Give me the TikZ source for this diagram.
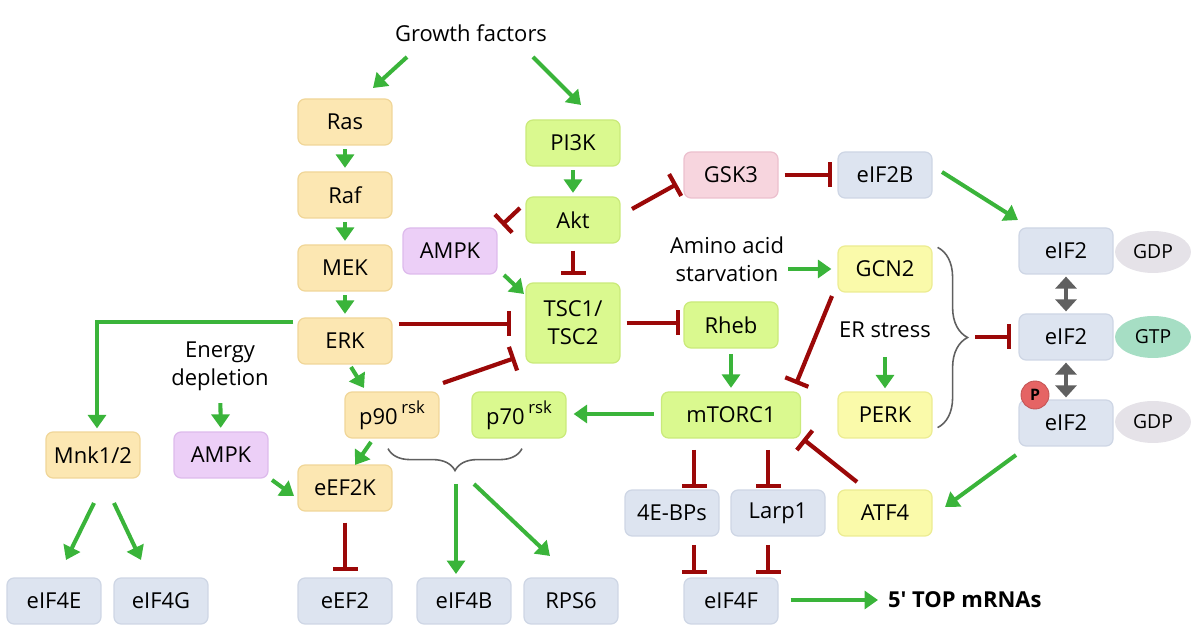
\documentclass[tikz,border=0pt]{standalone}
\usepackage{fontspec}
\setmainfont{Open Sans}
\usetikzlibrary{arrows.meta}
\usetikzlibrary{calc}
\usetikzlibrary{positioning}
\usetikzlibrary{shapes.geometric}
\usetikzlibrary{decorations.pathreplacing}
\definecolor{agreen}{RGB}{58,180,58}
\definecolor{ired}{RGB}{155,8,8}
\definecolor{tanfill}{RGB}{252,231,178}
\definecolor{tanline}{RGB}{240,214,152}
\definecolor{limefill}{RGB}{218,249,143}
\definecolor{limeline}{RGB}{202,234,122}
\definecolor{greyfill}{RGB}{221,228,240}
\definecolor{greyline}{RGB}{206,214,229}
\definecolor{pinkfill}{RGB}{247,213,222}
\definecolor{pinkline}{RGB}{236,192,206}
\definecolor{purpfill}{RGB}{236,207,247}
\definecolor{purpline}{RGB}{221,186,236}
\definecolor{yelfill}{RGB}{250,250,170}
\definecolor{yelline}{RGB}{236,236,146}
\definecolor{gdpfill}{RGB}{229,226,232}
\definecolor{gtpfill}{RGB}{166,222,196}
\definecolor{pfill}{RGB}{229,100,100}
\definecolor{dgrey}{RGB}{96,96,96}
\newcommand{\rsk}{\,\raisebox{0.5em}{\fontsize{9.5}{10}\selectfont rsk}}

\begin{document}
\begin{tikzpicture}[x=0.02cm, y=-0.02cm,
    every node/.style={font=\fontsize{12.5}{16}\selectfont, inner sep=1pt},
    box/.style={rounded corners=4pt, line width=0.7pt, minimum width=1.88cm, minimum height=0.92cm, inner sep=2pt},
    tan/.style={box, draw=tanline, fill=tanfill},
    lime/.style={box, draw=limeline, fill=limefill},
    grey/.style={box, draw=greyline, fill=greyfill},
    pink/.style={box, draw=pinkline, fill=pinkfill},
    purp/.style={box, draw=purpline, fill=purpfill},
    yel/.style={box, draw=yelline, fill=yelfill},
    gdp/.style={ellipse, fill=gdpfill, minimum width=1.52cm, minimum height=0.84cm, inner sep=0pt, font=\fontsize{11}{13}\selectfont},
    gtp/.style={gdp, fill=gtpfill},
    phos/.style={circle, fill=pfill, draw=pfill!85!black, line width=0.5pt, minimum size=0.56cm, inner sep=0pt, font=\fontsize{9}{10}\selectfont\bfseries},
    act/.style={draw=agreen, line width=2.3pt, -{Triangle[length=0.27cm, width=0.36cm]}},
    inh/.style={draw=ired, line width=2.4pt, -{Bar[width=0.5cm]}},
    swap/.style={draw=dgrey, line width=2.8pt, {Triangle[length=0.24cm, width=0.42cm]}-{Triangle[length=0.24cm, width=0.42cm]}},
    curly/.style={draw=dgrey, line width=0.9pt, decorate, decoration={brace, amplitude=#1}}]

    \useasboundingbox (0, 0) rectangle (1200, 644);

    \node (gf) at (471, 33) {Growth factors};
    \node [tan] (ras) at (345, 122) {Ras};
    \node [tan] (raf) at (345, 195) {Raf};
    \node [tan] (mek) at (345, 268) {MEK};
    \node [tan] (erk) at (345, 341) {ERK};
    \node [tan] (p90) at (392, 415) {p90\rsk};
    \node [tan] (eef2k) at (345, 488) {eEF2K};
    \node [tan] (mnk) at (93, 455) {Mnk1/2};
    \node [purp] (ampkb) at (221, 455) {AMPK};
    \node [align=center] (energy) at (220, 366) {Energy\\depletion};

    \node [grey] (eif4e) at (54, 601) {eIF4E};
    \node [grey] (eif4g) at (161, 601) {eIF4G};
    \node [grey] (eef2) at (345, 601) {eEF2};
    \node [grey] (eif4b) at (464, 601) {eIF4B};
    \node [grey] (rps6) at (571, 601) {RPS6};

    \node [lime] (pi3k) at (573, 143) {PI3K};
    \node [lime] (akt) at (573, 220) {Akt};
    \node [purp] (ampka) at (450, 251) {AMPK};
    \node [lime, minimum height=1.6cm, align=center] (tsc) at (573, 323) {TSC1/\\TSC2};
    \node [lime] (p70) at (519, 415) {p70\rsk};
    \node [pink] (gsk3) at (731, 175) {GSK3};
    \node [grey] (eif2b) at (885, 175) {eIF2B};
    \node [lime] (rheb) at (731, 325) {Rheb};
    \node [lime, minimum width=2.78cm] (mtorc1) at (731, 415) {mTORC1};

    \node [align=center] (aa) at (727, 259) {Amino acid\\starvation};
    \node [yel] (gcn2) at (885, 269) {GCN2};
    \node (er) at (885, 330) {ER stress};
    \node [yel] (perk) at (885, 415) {PERK};
    \node [yel] (atf4) at (885, 513) {ATF4};
    \node [grey] (ebp) at (672, 513) {4E-BPs};
    \node [grey] (larp1) at (778, 513) {Larp1};
    \node [grey] (eif4f) at (731, 601) {eIF4F};
    \node [anchor=west, font=\fontsize{12.5}{16}\selectfont\bfseries] (top) at (886, 600) {5\textquotesingle{} TOP mRNAs};

    \node [grey] (eif2t) at (1066, 251) {eIF2};
    \node [grey] (eif2m) at (1066, 337) {eIF2};
    \node [grey] (eif2p) at (1066, 423) {eIF2};
    \node [gdp] (gdpt) at (1153, 252) {GDP};
    \node [gtp] (gtp) at (1153, 337) {GTP};
    \node [gdp] (gdpp) at (1153, 422) {GDP};
    \node [phos] (p) at (1035, 395) {P};

    \coordinate (btip) at (456, 484);
    \coordinate (rtip) at (975, 337);

    \draw [act] ($(gf)+(-64, 24)$) -- ($(ras)+(28, -34)$);
    \draw [act] ($(gf)+(62, 24)$) -- ($(pi3k)+(8, -38)$);
    \draw [act, shorten <=2pt, shorten >=2pt] (ras) -- (raf);
    \draw [act, shorten <=2pt, shorten >=2pt] (raf) -- (mek);
    \draw [act, shorten <=2pt, shorten >=2pt] (mek) -- (erk);
    \draw [act] ($(erk.west)+(-4, -19)$) -| ($(mnk.north)+(4, -3)$);
    \draw [inh] ($(erk.east)+(6, -17)$) -- ($(tsc.west)+(-14, 1)$);
    \draw [act] ($(erk)+(6, 26)$) -- ($(p90)+(-28, -27)$);
    \draw [inh] ($(p90)+(51, -32)$) -- ($(tsc)+(-58, 35)$);
    \draw [act] ($(p90)+(-21, 27)$) -- ($(eef2k)+(10, -23)$);
    \draw [act] ($(ampkb)+(51, 25)$) -- ($(eef2k)+(-51, 8)$);
    \draw [act, shorten <=6pt, shorten >=2pt] (energy) -- (ampkb);
    \draw [act] ($(mnk)+(1, 48)$) -- ($(eif4e)+(12, -41)$);
    \draw [act] ($(mnk)+(21, 48)$) -- ($(eif4g)+(-20, -41)$);
    \draw [inh] ($(eef2k.south)+(0, 11)$) -- ($(eef2.north)+(0, -6)$);
    \draw [curly=0.44cm] ($(p70.south)+(3, 10)$) -- ($(p90.south)+(-4, 10)$);
    \draw [act] (btip) -- ($(eif4b)+(-8, -27)$);
    \draw [act] ($(btip)+(18, 0)$) -- ($(rps6)+(-21, -45)$);

    \draw [act, shorten <=2pt, shorten >=2pt] (pi3k) -- (akt);
    \draw [inh] ($(akt)+(-53, -12)$) -- ($(ampka)+(52, -26)$);
    \draw [inh] ($(akt)+(59, -11)$) -- ($(gsk3)+(-54, 9)$);
    \draw [inh] ($(akt.south)+(0, 7)$) -- ($(tsc.north)+(0, -7)$);
    \draw [act] ($(ampka)+(54, 24)$) -- ($(tsc)+(-49, -29)$);
    \draw [inh] ($(tsc.east)+(6, 0)$) -- ($(rheb.west)+(-3, -2)$);
    \draw [inh] ($(gsk3.east)+(6, 0)$) -- ($(eif2b.west)+(-5, 0)$);
    \draw [act] ($(eif2b)+(57, -3)$) -- ($(eif2t)+(-48, -31)$);
    \draw [act] ($(aa.east)+(2, 10)$) -- ($(gcn2.west)+(-6, 0)$);
    \draw [act] ($(er)+(0, 27)$) -- ($(perk.north)+(0, -3)$);
    \draw [inh] ($(gcn2)+(-53, 27)$) -- ($(mtorc1)+(65, -31)$);
    \draw [act, shorten <=3pt, shorten >=2pt] (rheb) -- (mtorc1);
    \draw [act] ($(mtorc1.west)+(-7, -1)$) -- ($(p70.east)+(7, -1)$);
    \draw [inh] ($(mtorc1)+(-37, 35)$) -- ($(ebp)+(22, -25)$);
    \draw [inh] ($(mtorc1)+(37, 35)$) -- ($(larp1)+(-10, -25)$);
    \draw [inh] ($(atf4)+(-28, -31)$) -- ($(mtorc1)+(72, 24)$);
    \draw [act] ($(eif2p)+(-50, 32)$) -- ($(atf4)+(60, -6)$);
    \draw [inh] ($(ebp)+(22, 32)$) -- ($(eif4f)+(-37, -27)$);
    \draw [inh] ($(larp1)+(-10, 32)$) -- ($(eif4f)+(37, -27)$);
    \draw [act] ($(eif4f.east)+(12, -1)$) -- ($(top.west)+(-8, 0)$);

    \draw [curly=0.6cm] ($(gcn2.north east)+(5, 2)$) -- ($(perk.south east)+(5, -11)$);
    \draw [inh] (rtip) -- ($(eif2m.west)+(-7, 0)$);
    \draw [swap] ($(eif2t.south)+(0, 2)$) -- ($(eif2m.north)+(0, -2)$);
    \draw [swap] ($(eif2m.south)+(0, 2)$) -- ($(eif2p.north)+(0, -2)$);
\end{tikzpicture}
\end{document}
